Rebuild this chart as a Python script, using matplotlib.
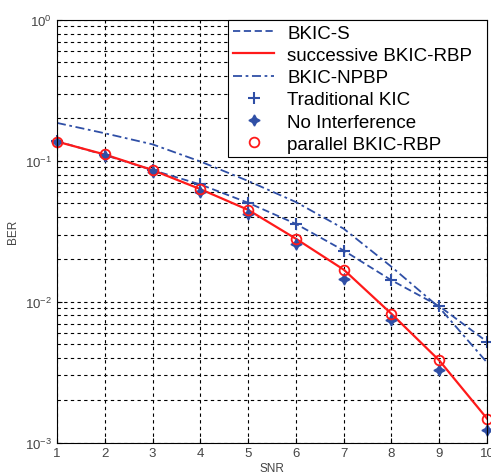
import numpy as np
import matplotlib.pyplot as plt
from matplotlib.patches import Rectangle
from matplotlib.ticker import LogLocator, NullFormatter

plt.rcParams['font.family'] = ['Liberation Sans', 'DejaVu Sans']

snr = [1, 2, 3, 4, 5, 6, 7, 8, 9, 10]
ber_bkic_s = [0.138, 0.110, 0.086, 0.068, 0.0504, 0.0357, 0.0231, 0.0142, 0.0093, 0.0052]
ber_succ_rbp = [0.137, 0.111, 0.086, 0.063, 0.0449, 0.028, 0.0169, 0.0082, 0.00383, 0.00148]
ber_npbp = [0.186, 0.157, 0.131, 0.099, 0.072, 0.051, 0.033, 0.0177, 0.0091, 0.0037]
ber_trad_kic = ber_bkic_s
ber_no_interf = [0.137, 0.108, 0.083, 0.060, 0.042, 0.0258, 0.0146, 0.00736, 0.0033, 0.00122]
ber_par_rbp = ber_succ_rbp

blue = '#2f4fa6'
red = '#ff1a1a'

fig = plt.figure(figsize=(4.91, 4.77), dpi=100)
ax = fig.add_axes([0.116, 0.070, 0.876, 0.886])

ax.semilogy(snr, ber_bkic_s, ls=(0, (4, 2)), color=blue, lw=1.3, label='BKIC-S')
ax.semilogy(snr, ber_succ_rbp, '-', color=red, lw=1.6, label='successive BKIC-RBP')
ax.semilogy(snr, ber_npbp, ls=(0, (5, 2, 1.5, 2)), color=blue, lw=1.3, label='BKIC-NPBP')
ax.semilogy(snr, ber_trad_kic, '+', color=blue, ms=9, mew=1.5, clip_on=False,
            label='Traditional KIC')
ax.semilogy(snr, ber_no_interf, ls='none', marker=(4, 1, 0), color=blue, ms=8,
            clip_on=False, label='No Interference')
ax.semilogy(snr, ber_par_rbp, 'o', mfc='none', mec=red, ms=7, mew=1.3, clip_on=False,
            label='parallel BKIC-RBP')

ax.set_xlim(1, 10)
ax.set_ylim(1e-3, 1)
ax.set_xticks(range(1, 11))
ax.yaxis.set_major_locator(LogLocator(base=10, numticks=10))
ax.yaxis.set_minor_locator(LogLocator(base=10, subs=np.arange(2, 10), numticks=20))
ax.yaxis.set_minor_formatter(NullFormatter())

ax.grid(True, which='major', ls=(0, (3, 3)), color='black', lw=0.8)
ax.grid(True, which='minor', axis='y', ls=(0, (3, 3)), color='black', lw=0.8)
ax.tick_params(which='both', direction='in', labelsize=9.5, labelcolor='#444444')
ax.tick_params(which='minor', length=2)

ax.set_xlabel('SNR', fontsize=8.5, color='#444444', labelpad=2)
ax.set_ylabel('BER', fontsize=8.5, color='#444444', labelpad=4)

# legend box in the reference has extra room on the right, so draw the frame by hand
ax_w = ax.get_window_extent().width
leg = ax.legend(loc='upper right', bbox_to_anchor=(1 - 10 / ax_w, 1), fontsize=13.5,
                frameon=False, borderaxespad=0, handlelength=2.2,
                borderpad=0.25, labelspacing=0.27, handletextpad=0.7)
leg.set_zorder(6)
fig.canvas.draw()
bb = leg.get_window_extent().transformed(ax.transAxes.inverted())
ax.add_patch(Rectangle((bb.x0, bb.y0), 1 - bb.x0, 1 - bb.y0, transform=ax.transAxes,
                       facecolor='white', edgecolor='black', lw=0.8, zorder=5,
                       clip_on=False))

fig.savefig('out.png', dpi=100)
